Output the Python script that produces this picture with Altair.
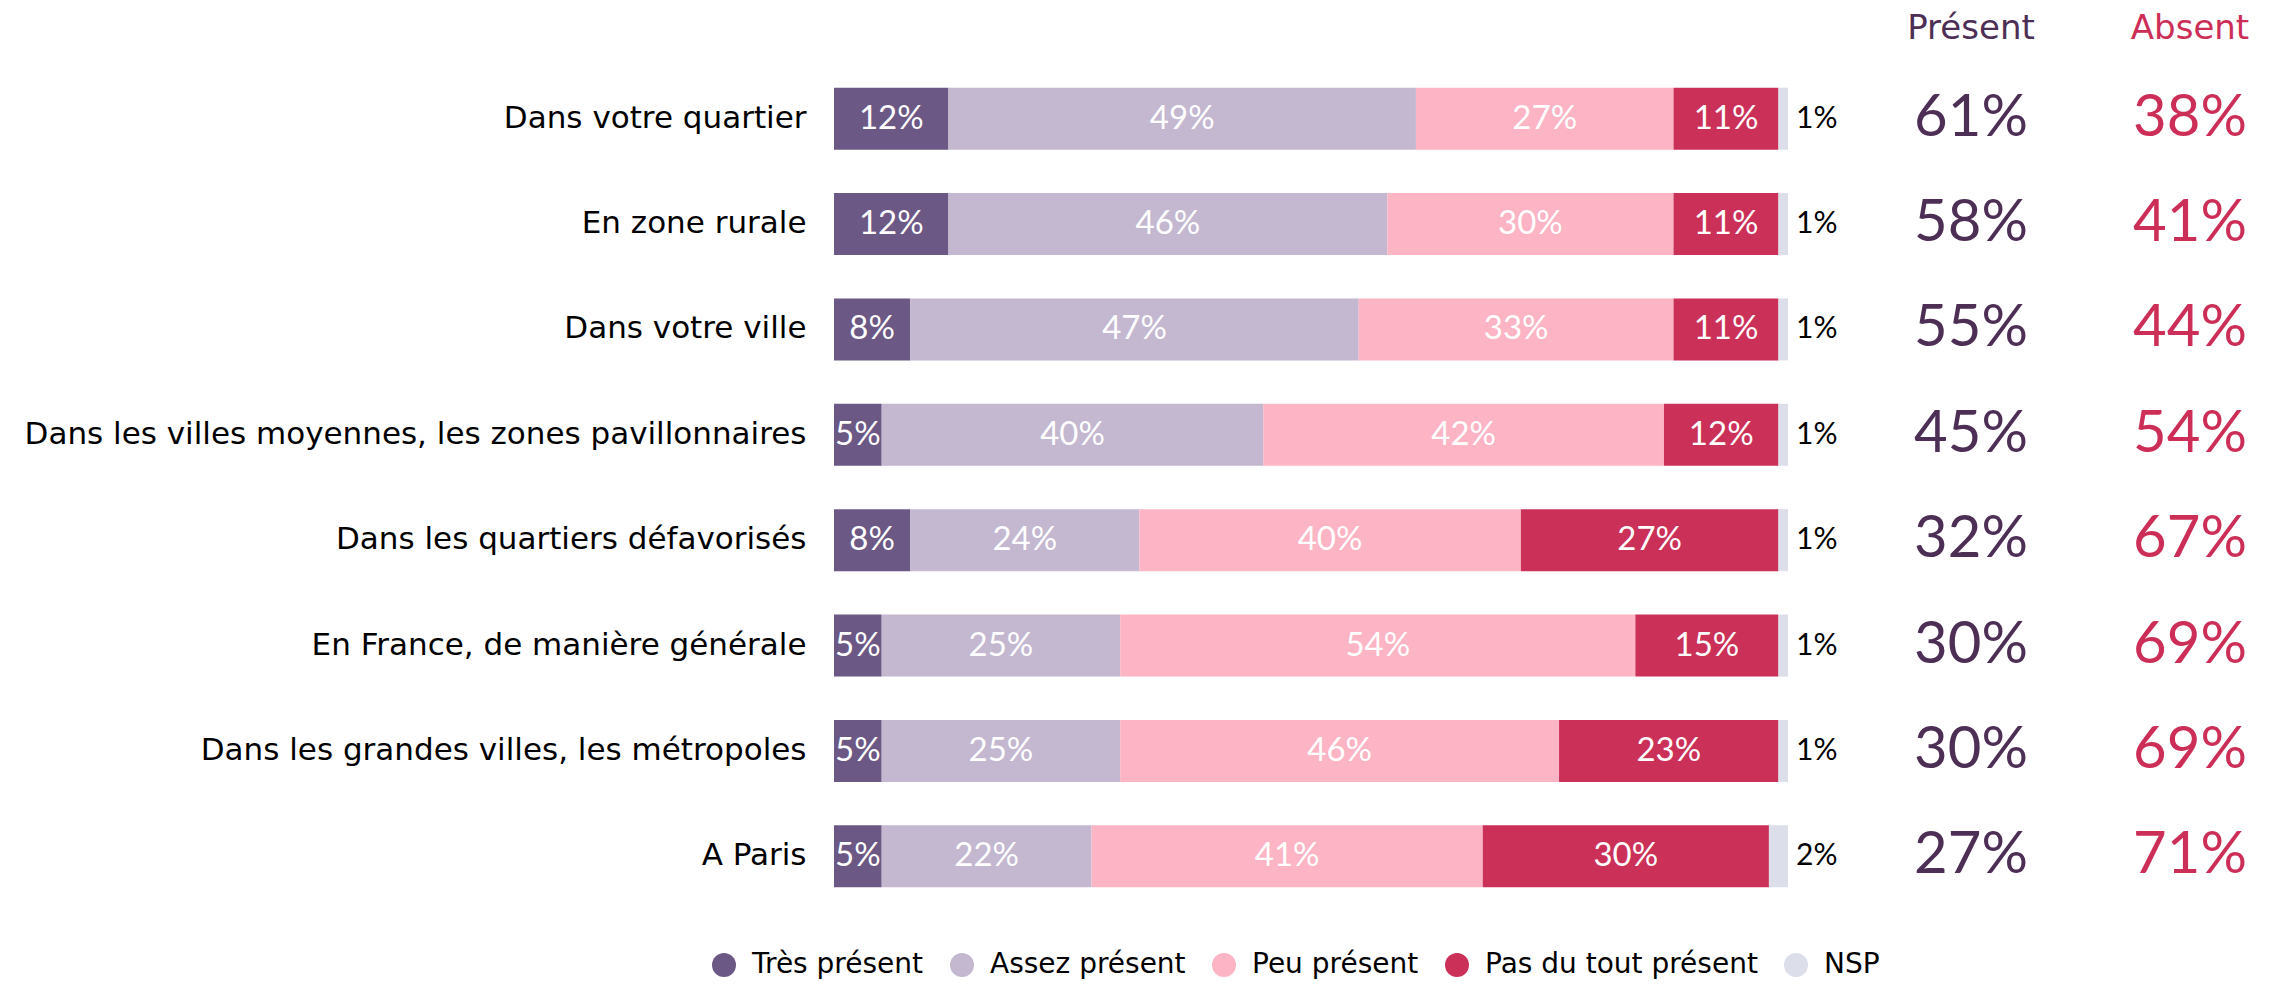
import altair as alt
import pandas as pd

categories = [
    "Dans votre quartier",
    "En zone rurale",
    "Dans votre ville",
    "Dans les villes moyennes, les zones pavillonnaires",
    "Dans les quartiers défavorisés",
    "En France, de manière générale",
    "Dans les grandes villes, les métropoles",
    "A Paris",
]
segments = ["Très présent", "Assez présent", "Peu présent", "Pas du tout présent", "NSP"]
tres = [12, 12, 8, 5, 8, 5, 5, 5]
assez = [49, 46, 47, 40, 24, 25, 25, 22]
peu = [27, 30, 33, 42, 40, 54, 46, 41]
pasdutout = [11, 11, 11, 12, 27, 15, 23, 30]
nsp = [1, 1, 1, 1, 1, 1, 1, 2]
present = [61, 58, 55, 45, 32, 30, 30, 27]
absent = [38, 41, 44, 54, 67, 69, 69, 71]
headers = ["Présent", "Absent"]

colors = ["#6B5884", "#C3B8D0", "#FDB4C5", "#CB3058", "#DCDFEA"]
present_color = "#4D2E55"
absent_color = "#CC2E57"
label_font = "DejaVu Sans"
num_font = "Lato"

rows = []
series = [tres, assez, peu, pasdutout, nsp]
for i, cat in enumerate(categories):
    start = 0
    for seg, vals in zip(segments, series):
        v = vals[i]
        rows.append({"cat": cat, "seg": seg, "value": v, "start": start,
                     "end": start + v, "mid": start + v / 2, "label": f"{v}%"})
        start += v
df = pd.DataFrame(rows)
summary = pd.DataFrame({"cat": categories,
                        "present": [f"{v}%" for v in present],
                        "absent": [f"{v}%" for v in absent]})
head_p = pd.DataFrame({"h": [headers[0]]})
head_a = pd.DataFrame({"h": [headers[1]]})

yaxis = alt.Axis(title=None, ticks=False, domain=False, labelFontSize=31,
                 labelFont=label_font, labelColor="#000000", labelPadding=28,
                 labelLimit=1000)
yscale = alt.Scale(domain=categories, paddingInner=0.41, paddingOuter=0.205)
Y = alt.Y("cat:N", sort=categories, scale=yscale, axis=yaxis)
xscale = alt.Scale(domain=[0, 100], nice=False, zero=True)

bars = alt.Chart(df).mark_bar(size=62).encode(
    y=Y,
    x=alt.X("start:Q", scale=xscale, axis=None),
    x2="end:Q",
    color=alt.Color("seg:N", scale=alt.Scale(domain=segments, range=colors),
                    sort=segments,
                    legend=alt.Legend(title=None, orient="none", direction="horizontal",
                                      legendX=-124, legendY=885,
                                      symbolType="circle", symbolSize=576,
                                      symbolStrokeWidth=0, labelFont=label_font,
                                      labelFontSize=28, labelColor="#000000",
                                      labelOffset=14, columnPadding=24,
                                      labelLimit=400)),
)

inbar = alt.Chart(df[df.seg != "NSP"]).mark_text(
    color="white", font=num_font, fontSize=33, baseline="middle"
).encode(y=Y, x=alt.X("mid:Q", scale=xscale, axis=None), text="label:N")

nsp_text = alt.Chart(df[df.seg == "NSP"]).mark_text(
    color="#000000", font=num_font, fontSize=30, align="left", dx=8, baseline="middle"
).encode(y=Y, x=alt.X("end:Q", scale=xscale, axis=None), text="label:N")

pres = alt.Chart(summary).mark_text(
    color=present_color, font=num_font, fontSize=58, baseline="middle", align="center"
).encode(y=Y, x=alt.value(1137), text="present:N")

abse = alt.Chart(summary).mark_text(
    color=absent_color, font=num_font, fontSize=58, baseline="middle", align="center"
).encode(y=Y, x=alt.value(1356), text="absent:N")

hp = alt.Chart(head_p).mark_text(
    color=present_color, font=label_font, fontSize=34, baseline="alphabetic", align="center"
).encode(x=alt.value(1137), y=alt.value(-27), text="h:N")

ha = alt.Chart(head_a).mark_text(
    color=absent_color, font=label_font, fontSize=34, baseline="alphabetic", align="center"
).encode(x=alt.value(1356), y=alt.value(-27), text="h:N")

chart = alt.layer(bars, inbar, nsp_text, pres, abse, hp, ha).properties(
    width=954, height=843,
    autosize=alt.AutoSizeParams(type="none"),
    padding={"left": 826, "top": 58, "right": 480, "bottom": 72},
).configure_view(stroke=None)

chart.save("out.html", embed_options={"renderer": "svg", "actions": False})
